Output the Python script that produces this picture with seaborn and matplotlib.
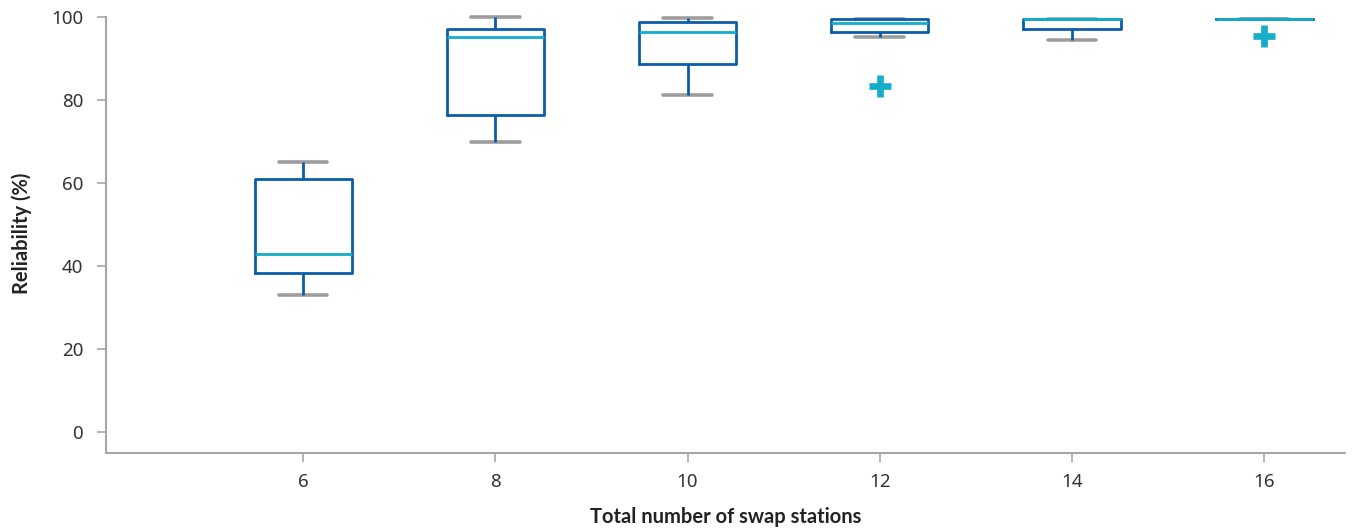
import matplotlib
matplotlib.use("Agg")
import matplotlib.pyplot as plt
import seaborn as sns
import pandas as pd

# Reliability (%) samples per station count
stations = [6, 8, 10, 12, 14, 16]
rel_6 = [33.2, 38.3, 42.9, 61.0, 65.1]
rel_8 = [69.9, 76.4, 95.3, 97.1, 100.0]
rel_10 = [81.2, 88.7, 96.5, 99.0, 99.8]
rel_12 = [83.4, 95.2, 96.4, 97.6, 98.7, 99.2, 99.6, 99.6, 99.6]
rel_14 = [94.6, 97.2, 99.6, 99.6, 99.6]
rel_16 = [95.5, 99.6, 99.6, 99.6, 99.6]

groups = [rel_6, rel_8, rel_10, rel_12, rel_14, rel_16]
df = pd.DataFrame({
    "stations": [s for s, g in zip(stations, groups) for _ in g],
    "reliability": [v for g in groups for v in g],
})

BLUE = "#0b5dab"
CYAN = "#14adca"
GRAY = "#9d9d9d"
AXIS = "#a6a6a6"
TEXT = "#333333"

sns.set_style("white")
plt.rcParams["font.family"] = ["Noto Sans", "DejaVu Sans"]

fig = plt.figure(figsize=(13.52, 5.30), dpi=100)
ax = fig.add_axes([0.0784, 0.146, 0.9164, 0.829])

sns.boxplot(
    data=df, x="stations", y="reliability", order=stations,
    color=BLUE, linecolor=BLUE, fill=False, width=0.505, whis=1.5,
    linewidth=2.0, ax=ax,
    boxprops=dict(color=BLUE, linewidth=2.0),
    whiskerprops=dict(color=BLUE, linewidth=2.0),
    capprops=dict(color=GRAY, linewidth=2.6),
    medianprops=dict(color=CYAN, linewidth=2.0),
    flierprops=dict(marker="+", markeredgecolor=CYAN, markerfacecolor=CYAN,
                    markersize=16, markeredgewidth=4.8),
)

# caps sit beneath the box outline; medians and fliers on top
for line in ax.lines:
    line.set_clip_on(False)
    if line.get_color() == GRAY:
        line.set_zorder(1.5)
    elif line.get_color() == CYAN or line.get_marker() == "+":
        line.set_zorder(3)
for patch in ax.patches:
    patch.set_clip_on(False)

ax.set_xlim(-1.025, 5.42)
ax.set_ylim(-4.9, 101)
ax.set_yticks([0, 20, 40, 60, 80, 100])

for side in ("top", "right"):
    ax.spines[side].set_visible(False)
for side in ("left", "bottom"):
    ax.spines[side].set_color(AXIS)
    ax.spines[side].set_linewidth(1.5)
ax.spines["left"].set_bounds(-4.9, 100)

ax.tick_params(axis="both", direction="out", length=6.5, width=1.2,
               color=AXIS, labelsize=13.5, labelcolor=TEXT,
               bottom=True, left=True)
ax.tick_params(axis="x", pad=8)
ax.tick_params(axis="y", pad=10)

label_font = dict(family=["Lato", "DejaVu Sans"], fontsize=14.5,
                  fontweight="bold", color="#222222")
ax.set_xlabel("Total number of swap stations", labelpad=12, **label_font)
ax.set_ylabel("Reliability (%)", labelpad=14, **label_font)

fig.savefig("out.png", dpi=100)
